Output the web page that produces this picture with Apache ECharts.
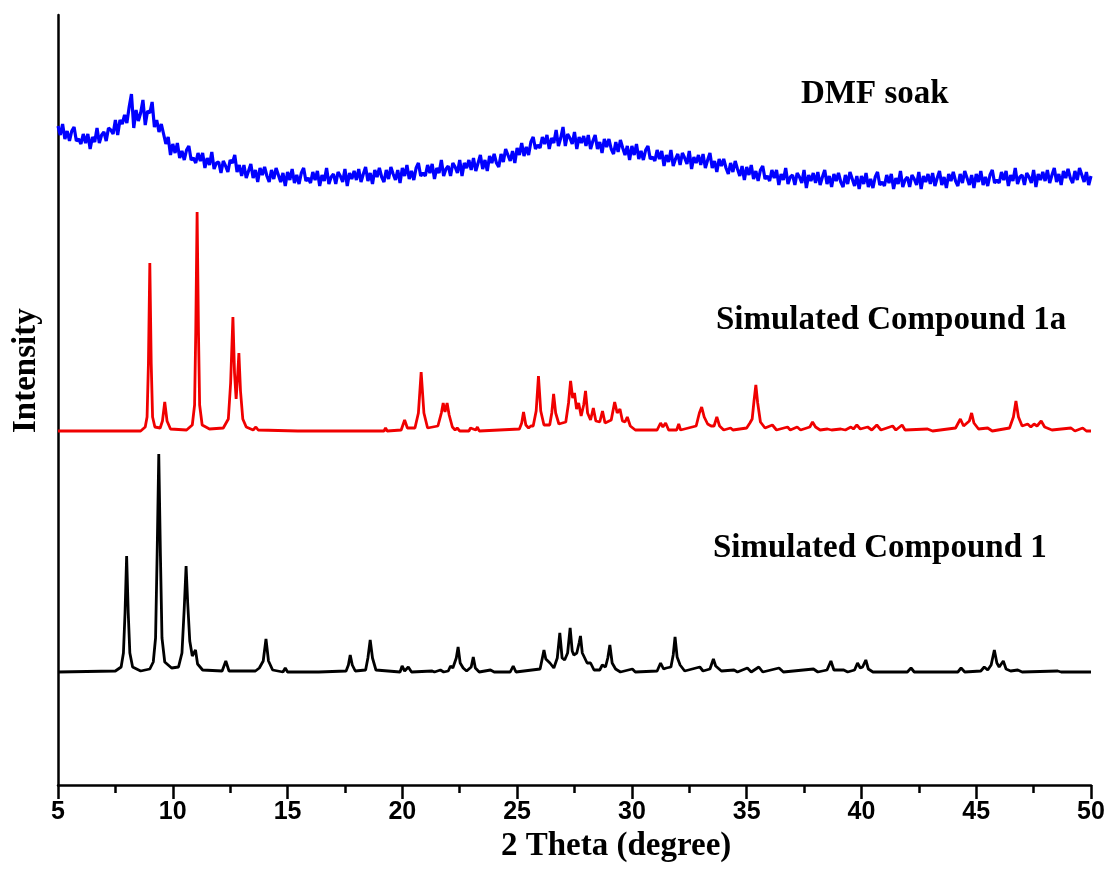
<!DOCTYPE html>
<html>
<head>
<meta charset="utf-8">
<script src="https://cdn.jsdelivr.net/npm/echarts@6/dist/echarts.min.js"></script>
<style>
html,body{margin:0;padding:0;background:#fff;}
#chart{width:1109px;height:877px;}
</style>
</head>
<body>
<div id="chart"></div>
<script>
// x tick labels (2 Theta, degree)
const xTicks = [5, 10, 15, 20, 25, 30, 35, 40, 45, 50];

// DMF soak (measured): sampled from 5.0 to 50.0 every 0.1 degree; one row per degree
const dmfStart = 5.0;
const dmfStep = 0.1;
const dmfSoak = [
657,648,659,644,652,642,652,656,642,644,
639,649,640,649,634,646,641,655,640,648,
651,642,655,653,649,663,648,663,659,668,
660,676,689,655,673,662,670,683,658,672,
670,681,656,663,651,659,649,639,646,628,
639,630,640,625,632,623,633,637,623,625,
620,630,622,630,615,625,618,631,614,620,
621,610,622,617,611,623,620,628,611,618,
607,618,605,612,619,605,613,601,615,608,
616,607,601,613,604,615,608,601,610,597,
611,603,614,600,608,599,610,615,602,605,
600,611,603,612,597,608,602,615,599,606,
609,599,611,607,601,614,597,610,604,612,
603,614,601,609,616,602,610,599,613,606,
615,606,601,613,604,616,609,603,613,600,
615,607,618,604,612,603,615,620,607,610,
607,618,610,619,604,615,610,623,607,614,
617,607,620,616,610,623,607,620,615,623,
613,625,612,620,628,614,623,612,627,620,
629,620,616,629,621,634,628,622,632,620,
635,628,640,627,636,628,641,646,634,638,
635,646,639,648,634,645,640,653,637,645,
656,637,649,645,639,651,634,646,640,647,
637,648,634,642,648,634,641,630,644,636,
644,634,629,641,631,643,635,628,637,623,
637,628,639,624,632,623,633,637,624,626,
622,633,624,632,617,628,621,633,617,624,
629,618,630,625,619,632,614,626,620,628,
618,629,615,623,630,615,622,611,624,617,
624,615,609,620,611,622,614,607,617,603,
616,608,618,604,612,602,613,617,604,607,
602,613,605,613,598,609,603,615,599,606,
608,598,610,606,600,613,595,608,602,610,
600,611,598,606,613,599,607,596,609,602,
610,601,596,608,599,611,604,597,607,594,
607,599,610,596,604,595,606,611,598,601,
597,608,600,609,594,605,599,612,596,603,
606,596,608,604,598,611,594,607,601,609,
599,610,597,605,612,598,606,595,609,602,
611,602,597,609,600,612,605,598,608,595,
609,601,612,598,606,597,608,613,600,603,
600,611,603,612,597,608,602,615,599,606,
608,598,610,606,600,613,596,609,603,611,
602,613,600,608,615,601,609,598,612,605,
614,605,600,612,603,615,608,601,611,598,
607
];

// Simulated Compound 1a (offset trace) [2theta, intensity]
const simulated1a = [
[5,352],[8.6,352],[8.8,356],[8.88,366],[8.94,420],[9.0,520],[9.06,420],[9.12,366],[9.22,356],[9.45,355],[9.55,362],[9.65,381],[9.75,362],[9.9,354],
[10.6,353],[10.85,358],[10.95,378],[11.0,450],[11.06,571],[11.12,450],[11.17,378],[11.28,358],[11.6,354],
[12.2,355],[12.42,364],[12.52,400],[12.62,466],[12.69,410],[12.76,384],[12.82,405],[12.88,430],[12.95,392],[13.05,364],[13.2,356],[13.5,353],
[13.62,356],[13.72,353],[15.45,352],[15.5,353],[15.55,352],[16.25,352],[16.3,354],[16.35,352],
[19.2,352],[19.27,355],[19.34,352],[19.95,353],[20.1,363],[20.22,355],[20.55,355],[20.7,370],[20.82,411],[20.94,370],[21.1,355],
[21.55,357],[21.7,370],[21.78,380],[21.86,371],[21.95,380],[22.04,368],[22.18,356],[22.3,353],[22.39,355],[22.5,352],[22.9,352],[22.97,355],[23.05,353],[23.2,353],[23.27,356],[23.35,352],
[25.1,354],[25.2,360],[25.28,371],[25.38,358],[25.5,355],[25.6,357],[25.7,357],[25.83,372],[25.93,407],[26.03,372],[26.17,358],
[26.42,358],[26.51,370],[26.59,389],[26.68,370],[26.82,359],[27.12,361],[27.24,380],[27.33,402],[27.42,385],[27.5,390],[27.59,374],[27.68,380],[27.79,367],[27.9,378],[27.98,392],[28.07,370],[28.2,363],[28.32,375],[28.43,362],[28.6,361],[28.72,372],[28.83,360],[29.1,363],[29.25,381],[29.36,370],[29.48,374],[29.59,362],[29.7,361],[29.8,366],[29.93,357],[30.15,353],
[31.1,353],[31.25,360],[31.35,356],[31.47,360],[31.6,353],[31.95,353],[32.04,359],[32.12,353],[32.8,357],[32.94,370],[33.04,376],[33.15,366],[33.3,359],[33.45,357],[33.5,358],[33.58,357],[33.7,366],[33.82,357],[34.0,353],[34.3,355],[34.4,353],
[35.0,355],[35.14,360],[35.24,364],[35.32,382],[35.4,398],[35.48,380],[35.6,361],[35.8,355],[36.12,358],[36.3,353],[36.78,356],[36.9,353],[37.2,356],[37.35,353],[37.75,356],[37.87,361],[38.0,356],[38.2,353],[38.52,354],[38.7,353],[39.1,354],[39.3,353],[39.54,356],[39.65,354],[39.8,358],[39.95,354],[40.27,356],[40.45,353],[40.67,358],[40.85,353],[41.36,357],[41.5,353],[41.77,358],[41.9,353],[42.88,354],[43.1,352],
[44.1,355],[44.31,364],[44.45,357],[44.6,360],[44.7,362],[44.8,370],[44.9,360],[45.1,354],[45.5,355],[45.7,352],[46.45,355],[46.62,366],[46.73,382],[46.84,366],[47.0,357],[47.24,359],[47.38,356],[47.52,359],[47.65,357],[47.83,362],[47.98,356],[48.3,353],[49.13,355],[49.3,352],[49.64,355],[49.8,352],[50,352]
];

// Simulated Compound 1 (offset trace) [2theta, intensity]
const simulated1 = [
[5,111],[7.5,112],[7.75,116],[7.85,130],[7.92,170],[7.99,227],[8.06,170],[8.13,130],[8.25,116],[8.6,112],
[9.0,114],[9.15,121],[9.25,145],[9.32,230],[9.39,329],[9.46,230],[9.53,145],[9.65,121],[9.95,115],
[10.25,116],[10.4,130],[10.5,175],[10.58,217],[10.65,180],[10.74,142],[10.85,127],[10.99,133],[11.08,119],[11.3,113],
[12.15,112],[12.31,122],[12.45,112],[13.6,112],[13.77,115],[13.94,122],[14.06,144],[14.17,122],[14.35,113],[14.8,111],[14.9,115],[15.0,111],[16.2,111],[16.28,113],[16.36,111],
[17.55,112],[17.65,118],[17.73,128],[17.82,118],[17.95,112],[18.4,113],[18.5,125],[18.6,143],[18.7,125],[18.85,113],
[19.9,111],[19.99,117],[20.1,112],[20.26,116],[20.4,111],[21.3,112],[21.4,111],[21.66,113],[21.8,111],[22.0,112],[22.1,117],[22.2,115],[22.35,125],[22.43,136],[22.52,120],[22.65,115],[22.8,112],[23.0,116],[23.09,126],[23.18,115],[23.35,111],[23.84,113],[24.0,111],[24.7,111],[24.83,117],[24.95,111],
[26.0,114],[26.1,125],[26.17,133],[26.25,124],[26.43,120],[26.6,115],[26.75,125],[26.86,150],[26.96,125],[27.07,123],[27.2,130],[27.31,155],[27.4,132],[27.47,128],[27.6,130],[27.7,140],[27.76,147],[27.84,130],[27.91,128],[28.05,120],[28.2,120],[28.35,113],[28.6,113],[28.71,118],[28.85,116],[28.95,125],[29.04,138],[29.14,120],[29.29,114],[29.5,111],[30.02,114],[30.15,111],
[31.1,112],[31.25,120],[31.38,114],[31.5,115],[31.7,116],[31.8,128],[31.88,146],[31.97,126],[32.1,118],[32.17,120],[32.3,112],[32.96,116],[33.1,112],[33.4,114],[33.55,124],[33.65,117],[33.72,116],[33.9,112],[34.45,113],[34.6,111],[35.03,115],[35.2,111],[35.53,116],[35.7,111],
[36.41,115],[36.6,111],[37.91,114],[38.1,111],[38.5,113],[38.67,122],[38.8,113],[39.23,113],[39.4,111],[39.7,113],[39.83,120],[39.95,115],[40.05,116],[40.19,123],[40.3,114],[40.5,111],[42.0,111],[42.16,115],[42.3,111],[44.2,111],[44.34,115],[44.5,111],[45.2,112],[45.35,116],[45.5,113],[45.65,118],[45.79,133],[45.9,120],[46.0,116],[46.18,122],[46.3,114],[46.5,112],[46.81,113],[47.0,111],[48.55,112],[48.7,111],[50,111]
];

const seriesNames = ['DMF soak', 'Simulated Compound 1a', 'Simulated Compound 1'];
const xAxisTitle = '2 Theta (degree)';
const yAxisTitle = 'Intensity';

// pair the DMF samples with their 2theta positions on the measurement grid
const dmfData = dmfSoak.map((v, i) => [+(dmfStart + i * dmfStep).toFixed(1), v]);

const chart = echarts.init(document.getElementById('chart'), null, {renderer: 'canvas'});
const serif = '"Liberation Serif","Times New Roman",serif';
const sans = '"Liberation Sans",Arial,sans-serif';

chart.setOption({
  animation: false,
  backgroundColor: '#fff',
  grid: {left: 58, right: 18, top: 15, bottom: 92, containLabel: false},
  xAxis: {
    type: 'value', min: 5, max: 50, interval: 5,
    axisLine: {show: true, onZero: false, lineStyle: {color: '#000', width: 2.5}},
    axisTick: {show: true, inside: false, length: 14, lineStyle: {color: '#000', width: 2.5}},
    minorTick: {show: true, splitNumber: 2, length: 8, lineStyle: {color: '#000', width: 2.5}},
    splitLine: {show: false},
    axisLabel: {
      color: '#000', fontSize: 25, fontWeight: 'bold', fontFamily: sans, margin: 15,
      formatter: v => (xTicks.indexOf(v) >= 0 ? String(v) : '')
    }
  },
  yAxis: {
    type: 'value', min: -2, max: 768,
    axisLine: {show: true, onZero: false, lineStyle: {color: '#000', width: 2.5}},
    axisTick: {show: false}, axisLabel: {show: false}, splitLine: {show: false}
  },
  graphic: [
    {type: 'text', left: 501, top: 830, style: {text: xAxisTitle, font: 'bold 33px ' + serif, fill: '#000'}},
    {type: 'text', x: 10, y: 433, rotation: Math.PI / 2,
      style: {text: yAxisTitle, font: 'bold 33px ' + serif, fill: '#000'}},
    {type: 'text', left: 801, top: 78, style: {text: seriesNames[0], font: 'bold 33px ' + serif, fill: '#000'}},
    {type: 'text', left: 716, top: 304, style: {text: seriesNames[1], font: 'bold 33px ' + serif, fill: '#000'}},
    {type: 'text', left: 713, top: 532, style: {text: seriesNames[2], font: 'bold 33px ' + serif, fill: '#000'}}
  ],
  series: [
    {name: seriesNames[0], type: 'line', data: dmfData, showSymbol: false, symbol: 'none',
      lineStyle: {color: '#0000ff', width: 3.2}, z: 3},
    {name: seriesNames[1], type: 'line', data: simulated1a, showSymbol: false, symbol: 'none',
      lineStyle: {color: '#f00000', width: 2.8}, z: 2},
    {name: seriesNames[2], type: 'line', data: simulated1, showSymbol: false, symbol: 'none',
      lineStyle: {color: '#000', width: 2.8}, z: 2}
  ]
});
</script>
</body>
</html>
